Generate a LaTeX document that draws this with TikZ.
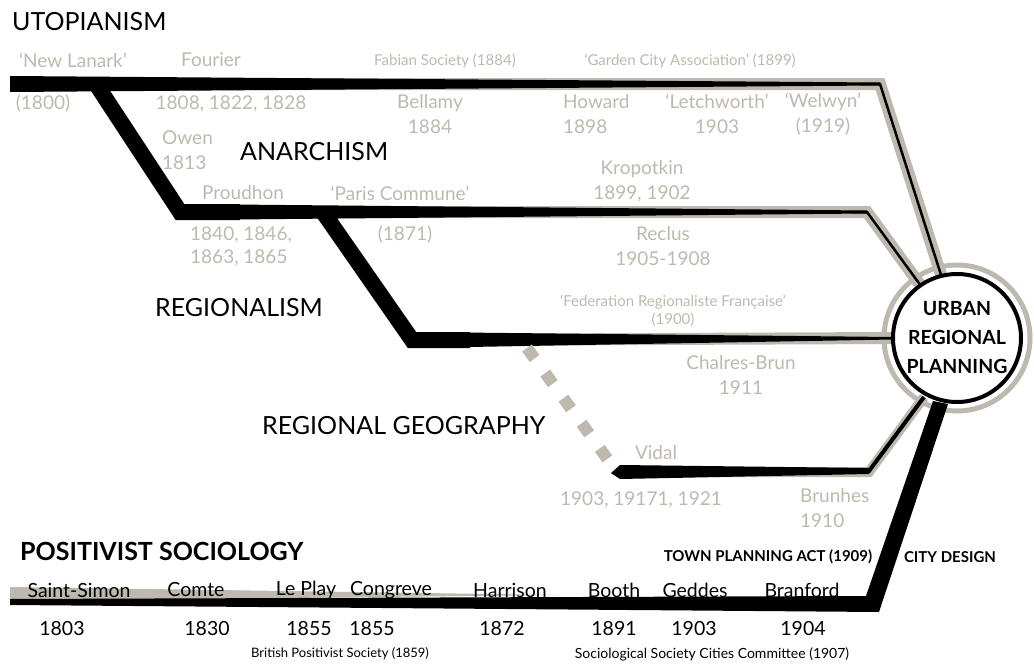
\documentclass[tikz,border=0pt]{standalone}
\usepackage{fontspec}
\setmainfont{Lato}
\definecolor{ash}{RGB}{190,185,175}

\begin{document}
\begin{tikzpicture}[x=1pt,y=-1pt,
    lbl/.style={text=ash,font=\fontsize{19}{25}\selectfont,inner sep=0pt,align=center},
    small/.style={text=ash,font=\fontsize{15}{18}\selectfont,inner sep=0pt,align=center},
    head/.style={font=\fontsize{25}{28}\selectfont,inner sep=0pt,anchor=west},
    soc/.style={font=\fontsize{19.5}{20}\selectfont,inner sep=0pt},
    note/.style={font=\fontsize{13}{16}\selectfont,inner sep=0pt},
    band/.style={draw=ash,line width=12pt,line join=miter},
    strand/.style={line width=2.5pt,line join=miter}]
    \useasboundingbox (0,0) rectangle (1034,664);

    \draw[ash,line width=5pt] (957,338) circle[radius=73pt];    % outer ring

    % grey bands under the strands
    \draw[band] (10,84) -- (880,84) -- (942,278);
    \draw[band] (180,212) -- (867,212) -- (921,286);
    \draw[band] (412,340) -- (894,338);
    \draw[band,line width=10pt] (640,472) -- (869,472) -- (924,397);
    \fill[ash] (10,587) -- (560,595) -- (10,601) -- cycle;

    % black strands, thinning to the right
    \fill (10,76) -- (880,82.5) -- (880,85.5) -- (10,92) -- cycle;
    \draw[strand] (860,84) -- (880,84) -- (942,278);
    \draw[line width=16pt,line join=miter] (96,84) -- (180,212) -- (240,212);
    \fill (180,204) -- (867,210.5) -- (867,213.5) -- (180,220) -- cycle;
    \draw[strand] (850,212) -- (867,212) -- (921,286);
    \draw[line width=16pt,line join=miter] (323,212) -- (412,340) -- (470,340);
    \fill (412,332) -- (893,337) -- (893,339.5) -- (412,348) -- cycle;
    \draw[ash,line width=12pt,dash pattern=on 13pt off 18pt] (527,348) -- (614,468);    % dashed link
    \fill (620,465) -- (869,468) -- (869,474) -- (620,479) -- (611,473) -- cycle;
    \draw[line width=4pt,line join=miter] (850,471) -- (869,471) -- (924,397);
    \fill (10,599) -- (866,596) -- (933,401) -- (948,404) -- (879,612) -- (10,605) -- cycle;

    \draw[line width=4pt,fill=white] (957,338) circle[radius=64pt];
    \node[font=\fontsize{19.5}{29}\selectfont\bfseries,align=center,inner sep=0pt] (urp) at (957,338) {URBAN\\REGIONAL\\PLANNING};

    % utopianism
    \node[head] (utop) at (12,22) {UTOPIANISM};
    \node[lbl] (lanark) at (73,60) {‘New Lanark’};
    \node[lbl] (fourier) at (211,60) {Fourier};
    \node[small] (fabian) at (445,61) {Fabian Society (1884)};
    \node[small] (garden) at (690,61) {‘Garden City Association’ (1899)};
    \node[lbl] (lanarky) at (43,104) {(1800)};
    \node[lbl] (fouriery) at (231,104) {1808, 1822, 1828};
    \node[lbl] (bellamy) at (430,114) {Bellamy\\1884};
    \node[lbl,align=left,anchor=west] (howard) at (563,114) {Howard\\1898};
    \node[lbl] (letch) at (717,114) {‘Letchworth’\\1903};
    \node[lbl] (welwyn) at (823,114) {‘Welwyn’\\(1919)};
    \node[lbl,align=left,anchor=west] (owen) at (162,150) {Owen\\1813};

    % anarchism
    \node[head] (anarch) at (240,152) {ANARCHISM};
    \node[lbl] (kropot) at (642,181) {Kropotkin\\1899, 1902};
    \node[lbl] (proud) at (243,193) {Proudhon};
    \node[lbl] (paris) at (400,193) {‘Paris Commune’};
    \node[lbl,align=left,anchor=west,font=\fontsize{19}{23}\selectfont] (proudy) at (190,246) {1840, 1846,\\1863, 1865};
    \node[lbl] (parisy) at (405,235) {(1871)};
    \node[lbl] (reclus) at (663,246) {Reclus\\1905-1908};

    % regionalism
    \node[head] (region) at (155,308) {REGIONALISM};
    \node[small] (feder) at (673,311) {‘Federation Regionaliste Française’\\(1900)};
    \node[lbl] (brun) at (741,375) {Chalres-Brun\\1911};

    % regional geography
    \node[head] (geo) at (262,426) {REGIONAL GEOGRAPHY};
    \node[lbl] (vidal) at (656,453) {Vidal};
    \node[lbl] (vidaly) at (641,500) {1903, 19171, 1921};
    \node[lbl,align=left,anchor=west] (brunhes) at (800,508) {Brunhes\\1910};

    % positivist sociology
    \node[head,font=\fontsize{25}{28}\selectfont\bfseries] (posit) at (20,551) {POSITIVIST SOCIOLOGY};
    \node[note,font=\fontsize{15}{16}\selectfont\bfseries] (tpa) at (768,557) {TOWN PLANNING ACT (1909)};
    \node[note,font=\fontsize{15}{16}\selectfont\bfseries] (citydes) at (950,557) {CITY DESIGN};
    \node[soc] (simon) at (79,590) {Saint-Simon};
    \node[soc] (comte) at (196,590) {Comte};
    \node[soc] (leplay) at (306,590) {Le Play};
    \node[soc] (congreve) at (391,590) {Congreve};
    \node[soc] (harrison) at (510,590) {Harrison};
    \node[soc] (booth) at (614,590) {Booth};
    \node[soc] (geddes) at (695,590) {Geddes};
    \node[soc] (branford) at (802,590) {Branford};
    \node[soc] (simony) at (62,629) {1803};
    \node[soc] (comtey) at (207,629) {1830};
    \node[soc] (leplayy) at (309,629) {1855};
    \node[soc] (congrevey) at (372,629) {1855};
    \node[soc] (harrisony) at (502,629) {1872};
    \node[soc] (boothy) at (614,629) {1891};
    \node[soc] (geddesy) at (694,629) {1903};
    \node[soc] (branfordy) at (803,629) {1904};
    \node[note] (bps) at (340,654) {British Positivist Society (1859)};
    \node[note,font=\fontsize{14}{16}\selectfont] (sscc) at (712,654) {Sociological Society Cities Committee (1907)};
\end{tikzpicture}
\end{document}
